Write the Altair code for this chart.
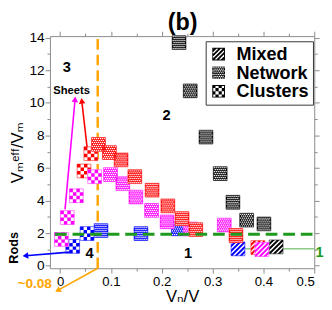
import math
import altair as alt
import pandas as pd

# ---------------- data ----------------
black_net_x = [0.234, 0.256, 0.287, 0.315, 0.340, 0.367, 0.401]
black_net_y = [13.7, 10.74, 7.9, 5.66, 3.9, 2.8, 2.57]
black_mix_x = [0.425]
black_mix_y = [1.16]
blue_chk_x = [0.0248, 0.053]
blue_chk_y = [1.19, 1.98]
blue_net_x = [0.0805, 0.159, 0.2327]
blue_net_y = [2.16, 1.98, 2.27]
blue_mix_x = [0.35]
blue_mix_y = [1.04]
mag_chk_x = [0.0025, 0.0142, 0.032, 0.068]
mag_chk_y = [1.62, 2.96, 4.3, 5.47]
mag_net_x = [0.0992, 0.1234, 0.149, 0.18, 0.2105, 0.2565, 0.323]
mag_net_y = [5.6, 5.04, 4.22, 3.4, 2.7, 2.26, 2.5]
mag_mix_x = [0.397]
mag_mix_y = [1.0]
red_chk_x = [0.047, 0.0605]
red_chk_y = [5.82, 6.88]
red_net_x = [0.0755, 0.097, 0.12, 0.147, 0.181, 0.212, 0.240, 0.267, 0.346]
red_net_y = [7.45, 6.95, 6.5, 5.47, 4.64, 3.68, 2.9, 2.22, 1.86]
red_mix_x = [0.389]
red_mix_y = [1.12]

patterns = ["Mixed", "Network", "Clusters"]
x_major = [0, 0.1, 0.2, 0.3, 0.4, 0.5]
x_minor = [0.05, 0.15, 0.25, 0.35, 0.45]
y_major = [0, 2, 4, 6, 8, 10, 12, 14]
y_minor = [1, 3, 5, 7, 9, 11, 13]

region_text = ["3", "2", "1", "4"]
region_x = [0.013, 0.2095, 0.2515, 0.058]
region_y = [12.2, 9.26, 0.8, 0.8]

panel_x, panel_y = [0.241], [14.46]
sheets_x, sheets_y = [0.0225], [10.7]
rods_x, rods_y = [-0.0903], [1.1]
approx_x, approx_y = [-0.05], [-1.1]
one_x, one_y = [0.5106], [0.86]

green_dash_x = [-0.01, 0.5]
green_dash_y = 1.94
green_thin_x = [0.36, 0.5]
green_thin_y = 1.04
orange_x = 0.074
orange_y = [-0.15, 14.1]

arrow_x0 = [0.0097, 0.053, 0.019, 0.074]
arrow_y0 = [3.46, 7.3, 0.84, -0.15]
arrow_x1 = [0.030, 0.042, -0.074, -0.0097]
arrow_y1 = [10.4, 10.3, 0.6, -1.6]
arrow_col = ["magenta", "red", "blue", "orange"]

# ---------------- geometry / styles ----------------
X0, X1 = -0.02, 0.5
Y0, Y1 = -0.15, 14.1
W, H = 271, 238
KX = W / (X1 - X0)
KY = H / (Y1 - Y0)

COL = {"red": "#ff0000", "magenta": "#ff00ff", "blue": "#0000ff", "black": "#000000",
       "orange": "#ffa500"}
EDGE = {"red": "#ff7070", "magenta": "#ff80ff", "blue": "#7070ff", "black": "#707070"}
SQ = 200


def poly(pts):
    return "M" + "L".join(f"{a:.3f},{b:.3f}" for a, b in pts) + "Z"


def rect(x0, y0, x1, y1, hole=False):
    if not hole:
        pts = [(x0, y0), (x1, y0), (x1, y1), (x0, y1)]
    else:
        pts = [(x0, y0), (x0, y1), (x1, y1), (x1, y0)]
    return poly(pts)


def area(pts):
    s = 0
    for i in range(len(pts)):
        a, b = pts[i], pts[(i + 1) % len(pts)]
        s += a[0] * b[1] - b[0] * a[1]
    return s


def clip(pts):
    def cut(pts, inside, inter):
        out = []
        for i in range(len(pts)):
            cur, prev = pts[i], pts[i - 1]
            if inside(cur):
                if not inside(prev):
                    out.append(inter(prev, cur))
                out.append(cur)
            elif inside(prev):
                out.append(inter(prev, cur))
        return out

    def ix(v):
        return lambda p, q: (v, p[1] + (q[1] - p[1]) * (v - p[0]) / (q[0] - p[0]))

    def iy(v):
        return lambda p, q: (p[0] + (q[0] - p[0]) * (v - p[1]) / (q[1] - p[1]), v)

    pts = cut(pts, lambda p: p[0] >= -1, ix(-1))
    pts = cut(pts, lambda p: p[0] <= 1, ix(1))
    pts = cut(pts, lambda p: p[1] >= -1, iy(-1))
    pts = cut(pts, lambda p: p[1] <= 1, iy(1))
    return pts


POS = area([(-1, -1), (1, -1), (1, 1), (-1, 1)]) > 0


def checker(frame=False):
    s = ""
    n = 4
    c = 2 / n
    for i in range(n):
        for j in range(n):
            if (i + j) % 2 == 0:
                s += rect(-1 + i * c, -1 + j * c, -1 + (i + 1) * c, -1 + (j + 1) * c)
    if frame:
        s += rect(-1, -1, 1, 1) + rect(-0.85, -0.85, 0.85, 0.85, hole=True)
    return s


def network():
    s = rect(-1, -1, 1, 1)
    h = 0.09
    n = 7
    step = 2 / n
    for j in range(n):
        for i in range(n):
            cx = -1 + step * (i + 0.5) + (step / 2 if j % 2 else 0)
            cy = -1 + step * (j + 0.5)
            if cx + h > 0.97:
                continue
            s += rect(cx - h, cy - h, cx + h, cy + h, hole=True)
    return s


def hatch(frame=False):
    s = ""
    h = 0.2
    for k in range(-3, 4):
        c = 0.7 * k
        band = [(-3, c - h + 3), (3, c - h - 3), (3, c + h - 3), (-3, c + h + 3)]
        p = clip(band)
        if len(p) >= 3:
            if (area(p) > 0) != POS:
                p = p[::-1]
            s += poly(p)
    if frame:
        s += rect(-1, -1, 1, 1) + rect(-0.85, -0.85, 0.85, 0.85, hole=True)
    return s


PAT = {"Mixed": hatch(), "Network": network(), "Clusters": checker()}
PAT_LEG = [hatch(True), network(), checker(True)]

# ---------------- tables ----------------
groups = [
    ("black", "Network", black_net_x, black_net_y),
    ("black", "Mixed", black_mix_x, black_mix_y),
    ("blue", "Network", blue_net_x, blue_net_y),
    ("blue", "Clusters", blue_chk_x, blue_chk_y),
    ("blue", "Mixed", blue_mix_x, blue_mix_y),
    ("red", "Clusters", red_chk_x, red_chk_y),
    ("magenta", "Clusters", mag_chk_x, mag_chk_y),
    ("magenta", "Network", mag_net_x, mag_net_y),
    ("red", "Network", red_net_x, red_net_y),
    ("red", "Mixed", red_mix_x, red_mix_y),
    ("magenta", "Mixed", mag_mix_x, mag_mix_y),
]
rows = []
for gi, (ser, pat, xs_, ys_) in enumerate(groups):
    for a, b in zip(xs_, ys_):
        rows.append({"g": gi, "series": ser, "pattern": pat, "x": a, "y": b})
df = pd.DataFrame(rows)

arrows = []
for a0, b0, a1, b1, c in zip(arrow_x0, arrow_y0, arrow_x1, arrow_y1, arrow_col):
    dxp, dyp = (a1 - a0) * KX, (b1 - b0) * KY
    L = math.hypot(dxp, dyp)
    ang = math.degrees(math.atan2(dxp, dyp)) % 360
    back = 3.0 / L
    arrows.append({"x0": a0, "y0": b0, "x1": a1, "y1": b1, "c": c, "angle": ang,
                   "hx": a1 - (a1 - a0) * back, "hy": b1 - (b1 - b0) * back})
adf = pd.DataFrame(arrows)

xs = alt.Scale(domain=[X0, X1], nice=False, zero=False)
ys = alt.Scale(domain=[Y0, Y1], nice=False, zero=False)


def X(f="x"):
    return alt.X(f, type="quantitative", scale=xs, axis=None)


def Y(f="y"):
    return alt.Y(f, type="quantitative", scale=ys, axis=None)


AX = dict(grid=False, domainColor="#8a8a8a", tickColor="#8a8a8a", labelColor="black",
          labelFont="Liberation Sans", titleFont="Liberation Sans, DejaVu Sans",
          titleFontWeight="normal", titleColor="black")

x_lab = "datum.value == 0 ? '0' : format(datum.value, '.1f')"

axis_major = alt.Chart(df).mark_point(opacity=0).encode(
    x=alt.X("x:Q", scale=xs, axis=alt.Axis(orient="bottom", values=x_major, tickSize=5,
            labelExpr=x_lab, labelFontSize=13.5, labelPadding=2, title="Vₙ/V",
            titleFontSize=17, titlePadding=1, **AX)),
    y=alt.Y("y:Q", scale=ys, axis=alt.Axis(orient="left", values=y_major, tickSize=5,
            format="d", labelFontSize=14, labelPadding=1, title="Vₘᵉᶠᶠ/Vₘ",
            titleFontSize=17, titlePadding=3, **AX)),
)
axis_minor = alt.Chart(df).mark_point(opacity=0).encode(
    x=alt.X("x:Q", scale=xs, axis=alt.Axis(orient="bottom", values=x_minor, tickSize=3,
            labels=False, domain=False, title=None, **AX)),
    y=alt.Y("y:Q", scale=ys, axis=alt.Axis(orient="left", values=y_minor, tickSize=3,
            labels=False, domain=False, title=None, **AX)),
)
axis_top = alt.Chart(df).mark_point(opacity=0).encode(
    x=alt.X("x:Q", scale=xs, axis=alt.Axis(orient="top", values=x_major, tickSize=5,
            labels=False, title=None, **AX)),
    y=alt.Y("y:Q", scale=ys, axis=alt.Axis(orient="right", values=y_major, tickSize=5,
            labels=False, title=None, **AX)),
)
axis_top_minor = alt.Chart(df).mark_point(opacity=0).encode(
    x=alt.X("x:Q", scale=xs, axis=alt.Axis(orient="top", values=x_minor, tickSize=3,
            labels=False, domain=False, title=None, **AX)),
    y=alt.Y("y:Q", scale=ys, axis=alt.Axis(orient="right", values=y_minor, tickSize=3,
            labels=False, domain=False, title=None, **AX)),
)

legend_layer = alt.Chart(df).mark_point(filled=True, size=SQ, opacity=0, fill="black",
                                        strokeWidth=0).encode(
    x=X(), y=Y(),
    shape=alt.Shape("pattern:N", scale=alt.Scale(domain=patterns, range=PAT_LEG),
                    legend=alt.Legend(title=None, orient="none", legendX=159.7, legendY=5.3,
                                      strokeColor="#333333", fillColor="white", padding=4,
                                      labelFontSize=18.5, labelFont="Liberation Sans",
                                      labelFontWeight="bold", labelColor="black",
                                      symbolSize=169, symbolFillColor="black",
                                      symbolStrokeWidth=0, symbolOpacity=1,
                                      rowPadding=0, labelOffset=9)),
)

# reference lines
gl = pd.DataFrame({"x": green_dash_x, "y": [green_dash_y] * 2})
green_dash = alt.Chart(gl).mark_line(color="#1e9a1e", strokeWidth=3, strokeDash=[12, 6]).encode(x=X(), y=Y())
gt = pd.DataFrame({"x": green_thin_x, "y": [green_thin_y] * 2})
green_thin = alt.Chart(gt).mark_line(color="#1e9a1e", strokeWidth=0.8).encode(x=X(), y=Y())
ol = pd.DataFrame({"x": [orange_x] * 2, "y": orange_y})
orange_dash = alt.Chart(ol).mark_line(color=COL["orange"], strokeWidth=2.5, strokeDash=[11, 5]).encode(x=X(), y=Y())

cscale = alt.Scale(domain=list(COL.keys()), range=list(COL.values()))
arrow_lines = alt.Chart(adf).mark_rule(strokeWidth=1.6).encode(
    x=X("x0"), y=Y("y0"), x2="hx", y2="hy",
    color=alt.Color("c:N", scale=cscale, legend=None))
arrow_heads = alt.Chart(adf).mark_point(shape="triangle-up", filled=True, size=45, opacity=1,
                                         strokeWidth=0).encode(
    x=X("hx"), y=Y("hy"), angle=alt.Angle("angle:Q", scale=None),
    color=alt.Color("c:N", scale=cscale, legend=None))

# squares
square_layers = []
for gi, (ser, pat, _, _) in enumerate(groups):
    base = alt.Chart(df).transform_filter(alt.datum.g == gi).mark_square(
        size=SQ, filled=True, fill="white", stroke=EDGE[ser], strokeWidth=1, opacity=1
    ).encode(x=X(), y=Y())
    top = alt.Chart(df).transform_filter(alt.datum.g == gi).mark_point(
        size=SQ, filled=True, fill=COL[ser], strokeWidth=0, opacity=1, shape=PAT[pat]
    ).encode(x=X(), y=Y())
    square_layers += [base, top]

# texts
rdf = pd.DataFrame({"t": region_text, "x": region_x, "y": region_y})
region = alt.Chart(rdf).mark_text(fontSize=15, fontWeight="bold", font="Liberation Sans",
                                   color="black").encode(x=X(), y=Y(), text="t:N")
panel = alt.Chart(pd.DataFrame({"t": ["(b)"], "x": panel_x, "y": panel_y})).mark_text(
    fontSize=24, fontWeight="bold", font="Liberation Sans", color="black",
    baseline="alphabetic").encode(x=X(), y=Y(), text="t:N")
sheets = alt.Chart(pd.DataFrame({"t": ["Sheets"], "x": sheets_x, "y": sheets_y})).mark_text(
    fontSize=11.5, fontWeight="bold", font="Liberation Sans", color="black").encode(x=X(), y=Y(), text="t:N")
rods = alt.Chart(pd.DataFrame({"t": ["Rods"], "x": rods_x, "y": rods_y})).mark_text(
    fontSize=13, fontWeight="bold", font="Liberation Sans", color="black", angle=270).encode(x=X(), y=Y(), text="t:N")
approx = alt.Chart(pd.DataFrame({"t": ["~0.08"], "x": approx_x, "y": approx_y})).mark_text(
    fontSize=14, fontWeight="bold", font="Liberation Sans", color=COL["orange"]).encode(x=X(), y=Y(), text="t:N")
one = alt.Chart(pd.DataFrame({"t": ["1"], "x": one_x, "y": one_y})).mark_text(
    fontSize=15, fontWeight="bold", font="Liberation Sans", color="#1e9a1e").encode(x=X(), y=Y(), text="t:N")

chart = alt.layer(
    legend_layer, axis_major, axis_minor, axis_top, axis_top_minor,
    green_thin, orange_dash,
    *square_layers,
    green_dash, arrow_lines, arrow_heads,
    region, panel, sheets, rods, approx, one,
).resolve_scale(shape="independent").resolve_axis(x="independent", y="independent").properties(
    width=W, height=H, autosize="none",
    padding={"left": 43, "top": 25, "right": 10, "bottom": 39},
).configure_view(stroke=None)

chart.save("out.html", embed_options={"renderer": "svg", "actions": False})
